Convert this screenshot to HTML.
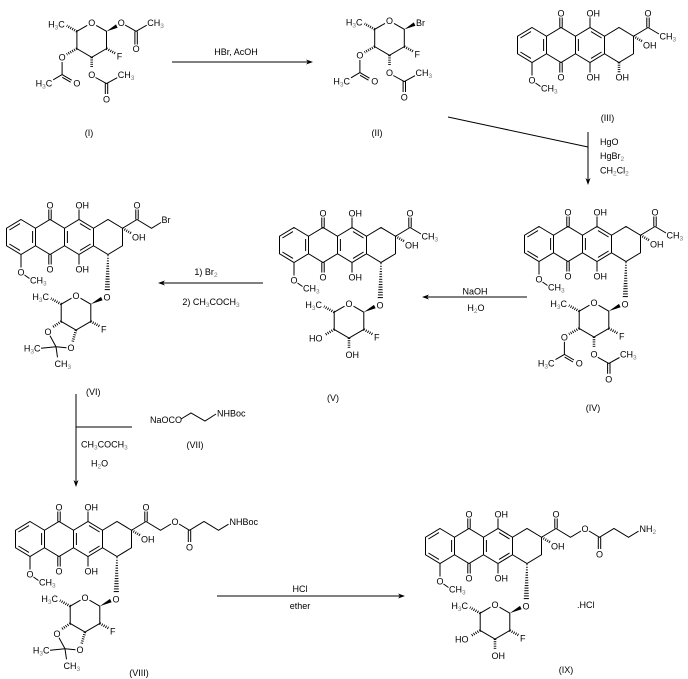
<!DOCTYPE html>
<html><head><meta charset="utf-8">
<style>
html,body{margin:0;padding:0;background:#fff;}
svg{display:block}
text{font-family:"Liberation Sans",Arial,sans-serif;font-size:9px;fill:#000}
.s{font-size:6.5px;fill:#777}
.b{stroke:#000;stroke-width:1;fill:none}
.h{stroke:#000;stroke-width:2.6;stroke-dasharray:0.9 1.3;fill:none}
</style></head><body>
<svg width="688" height="679" viewBox="0 0 688 679" xmlns="http://www.w3.org/2000/svg">
<defs><pattern id="hz" width="10" height="2.6" patternUnits="userSpaceOnUse"><rect width="10" height="1" fill="#000"/></pattern></defs>
<rect width="688" height="679" fill="#fff"/>

<!-- Arrows -->
<path class="b" d="M172,62H310"/><polygon points="313,62 306,59.5 308,62 306,64.5"/>
<text x="236" y="55" text-anchor="middle">HBr, AcOH</text>

<path class="b" d="M448,117L588,147M588,132V182"/><polygon points="588,185 585.5,178 588,180 590.5,178"/>
<text x="600" y="145">HgO</text>
<text x="600" y="159">HgBr<tspan class="s" dy="2">2</tspan></text>
<text x="600" y="173.5">CH<tspan class="s" dy="2">2</tspan><tspan dy="-2">Cl</tspan><tspan class="s" dy="2">2</tspan></text>

<path class="b" d="M527,297H425"/><polygon points="422,297 429,294.5 427,297 429,299.5"/>
<text x="475" y="294.5" text-anchor="middle">NaOH</text>
<text x="476" y="311" text-anchor="middle">H<tspan class="s" dy="2">2</tspan><tspan dy="-2">O</tspan></text>

<path class="b" d="M263,283H161"/><polygon points="158,283 165,280.5 163,283 165,285.5"/>
<text x="206" y="275" text-anchor="middle">1) Br<tspan class="s" dy="2">2</tspan></text>
<text x="211" y="305" text-anchor="middle">2) CH<tspan class="s" dy="2">3</tspan><tspan dy="-2">COCH</tspan><tspan class="s" dy="2">3</tspan></text>

<path class="b" d="M76,394V484M76,427H132"/><polygon points="76,487 73.5,480 76,482 78.5,480"/>
<text x="81" y="447.5">CH<tspan class="s" dy="2">3</tspan><tspan dy="-2">COCH</tspan><tspan class="s" dy="2">3</tspan></text>
<text x="91" y="466.5">H<tspan class="s" dy="2">2</tspan><tspan dy="-2">O</tspan></text>
<text x="150" y="423">NaOCO</text>
<path class="b" d="M181,419L191,413L205,421L216,414"/>
<text x="217" y="416.5">NHBoc</text>
<text x="195" y="448" text-anchor="middle">(VII)</text>

<path class="b" d="M217,596H402"/><polygon points="405,596 398,593.5 400,596 398,598.5"/>
<text x="300" y="592" text-anchor="middle">HCl</text>
<text x="300" y="609" text-anchor="middle">ether</text>

<!-- Labels -->
<text x="89" y="136" text-anchor="middle">(I)</text>
<text x="377" y="136" text-anchor="middle">(II)</text>
<text x="607.5" y="121" text-anchor="middle">(III)</text>
<text x="593" y="411" text-anchor="middle">(IV)</text>
<text x="333" y="401" text-anchor="middle">(V)</text>
<text x="86" y="395">(VI)</text>
<text x="139" y="676" text-anchor="middle">(VIII)</text>
<text x="566" y="673" text-anchor="middle">(IX)</text>
<text x="577" y="608">.HCl</text>

<!-- (I) -->
<g transform="translate(91.7,40)">
<path class="b" d="M-4.5,-14.6L-14.8,-8.65V8.65L0,17.3L14.8,8.65V-8.65L4.5,-14.6"/><text x="0" y="-14" text-anchor="middle">O</text><path class="h" d="M-14.8,-8.65L-25,-14.3M14.8,8.65L24,13.6"/><text x="-27" y="-12.7" text-anchor="end">H<tspan class="s" dy="2">3</tspan><tspan dy="-2">C</tspan></text><text x="25" y="19.5">F</text>
<path class="h" d="M-14.8,8.65L-25,14.3M0,17.3V28"/><text x="-29.6" y="20.6" text-anchor="middle">O</text>
<path class="b" d="M-29.6,22V34.6L-20,40.2M-29.4,37.3L-21,42.2M-29.6,34.6L-38.5,39.8M3.8,37.5L14.8,43.6L25.5,37.7M13.6,43.3V54M16,43.3V54"/>
<text x="-14.8" y="46.6" text-anchor="middle">O</text><text x="-39.5" y="46.6" text-anchor="end">H<tspan class="s" dy="2">3</tspan><tspan dy="-2">C</tspan></text><text x="0" y="37.9" text-anchor="middle">O</text><text x="14.8" y="62.5" text-anchor="middle">O</text><text x="26" y="37.9">CH<tspan class="s" dy="2">3</tspan></text>
<polygon points="14.8,-8.65 25.9,-12.3 24.3,-15.6"/><text x="29.6" y="-14" text-anchor="middle">O</text>
<path class="b" d="M33.4,-15L44.4,-8.65L55,-14.8M43.2,-8.65V4.5M45.6,-8.65V4.5"/>
<text x="44.4" y="12.2" text-anchor="middle">O</text><text x="55.5" y="-14">CH<tspan class="s" dy="2">3</tspan></text>
</g>

<!-- (II) -->
<g transform="translate(389.5,38)">
<path class="b" d="M-4.5,-14.6L-14.8,-8.65V8.65L0,17.3L14.8,8.65V-8.65L4.5,-14.6"/><text x="0" y="-14" text-anchor="middle">O</text><path class="h" d="M-14.8,-8.65L-25,-14.3M14.8,8.65L24,13.6"/><text x="-27" y="-12.7" text-anchor="end">H<tspan class="s" dy="2">3</tspan><tspan dy="-2">C</tspan></text><text x="25" y="19.5">F</text>
<path class="h" d="M-14.8,8.65L-25,14.3M0,17.3V28"/><text x="-29.6" y="20.6" text-anchor="middle">O</text>
<path class="b" d="M-29.6,22V34.6L-20,40.2M-29.4,37.3L-21,42.2M-29.6,34.6L-38.5,39.8M3.8,37.5L14.8,43.6L25.5,37.7M13.6,43.3V54M16,43.3V54"/>
<text x="-14.8" y="46.6" text-anchor="middle">O</text><text x="-39.5" y="46.6" text-anchor="end">H<tspan class="s" dy="2">3</tspan><tspan dy="-2">C</tspan></text><text x="0" y="37.9" text-anchor="middle">O</text><text x="14.8" y="62.5" text-anchor="middle">O</text><text x="26" y="37.9">CH<tspan class="s" dy="2">3</tspan></text>
<polygon points="14.8,-8.65 25.9,-12.3 24.3,-15.6"/><text x="26.5" y="-12">Br</text>
</g>

<!-- (III) -->
<g transform="translate(532,45)">
<path class="b" d="M0,-17.5L14.5,-8.75V8.75L0,17.5L-14.5,8.75V-8.75Z M14.5,-8.75L29,-17.5L43.5,-8.75V8.75L29,17.5L14.5,8.75 M43.5,-8.75L58,-17.5L72.5,-8.75V8.75L58,17.5L43.5,8.75 M72.5,-8.75L87,-17.5L101.5,-8.75V8.75L87,17.5L72.5,8.75 M-11.6,-7L-1,-13.4M11.6,-6V6M-1,13.4L-11.6,7M46.4,-6V6M59,-13.4L69.6,-7M69.6,7L59,13.4 M27.8,-17.5V-27.5M30.2,-17.5V-27.5M27.8,17.5V27.5M30.2,17.5V27.5M58,-17.5V-27.5M58,17.5V27.5M0,17.5V30.5M3.5,38L8.5,41.5 M101.5,-8.75L116,-17.5M114.8,-17.5V-27.5M117.2,-17.5V-27.5"/>
<text x="29" y="-28.7" text-anchor="middle">O</text><text x="54.5" y="-28.7">OH</text><text x="29" y="35.3" text-anchor="middle">O</text><text x="54.5" y="35.3">OH</text><text x="0" y="38.3" text-anchor="middle">O</text><text x="9" y="46.3">CH<tspan class="s" dy="2">3</tspan></text><text x="111" y="3.3">OH</text><text x="116" y="-28.7" text-anchor="middle">O</text><path class="h" d="M101.5,-8.75L110,-3.8"/>
<path class="b" d="M116,-17.5L127,-11"/><text x="127.5" y="-5.5">CH<tspan class="s" dy="2">3</tspan></text>
<path class="h" d="M87,17.5V27.5"/><text x="83.5" y="35.3">OH</text>
</g>

<!-- (IV) -->
<g transform="translate(539,244)">
<path class="b" d="M0,-17.5L14.5,-8.75V8.75L0,17.5L-14.5,8.75V-8.75Z M14.5,-8.75L29,-17.5L43.5,-8.75V8.75L29,17.5L14.5,8.75 M43.5,-8.75L58,-17.5L72.5,-8.75V8.75L58,17.5L43.5,8.75 M72.5,-8.75L87,-17.5L101.5,-8.75V8.75L87,17.5L72.5,8.75 M-11.6,-7L-1,-13.4M11.6,-6V6M-1,13.4L-11.6,7M46.4,-6V6M59,-13.4L69.6,-7M69.6,7L59,13.4 M27.8,-17.5V-27.5M30.2,-17.5V-27.5M27.8,17.5V27.5M30.2,17.5V27.5M58,-17.5V-27.5M58,17.5V27.5M0,17.5V30.5M3.5,38L8.5,41.5 M101.5,-8.75L116,-17.5M114.8,-17.5V-27.5M117.2,-17.5V-27.5"/>
<text x="29" y="-28.7" text-anchor="middle">O</text><text x="54.5" y="-28.7">OH</text><text x="29" y="35.3" text-anchor="middle">O</text><text x="54.5" y="35.3">OH</text><text x="0" y="38.3" text-anchor="middle">O</text><text x="9" y="46.3">CH<tspan class="s" dy="2">3</tspan></text><text x="111" y="3.3">OH</text><text x="116" y="-28.7" text-anchor="middle">O</text><path class="h" d="M101.5,-8.75L110,-3.8"/>
<path class="b" d="M116,-17.5L127,-11"/><text x="127.5" y="-5.5">CH<tspan class="s" dy="2">3</tspan></text>
<polygon points="86.4,17.5 87.6,17.5 89,54.5 83.6,54.5" fill="url(#hz)"/><text x="86" y="63.3" text-anchor="middle">O</text>
</g>
<g transform="translate(594,319.8)">
<path class="b" d="M-4.5,-14.6L-14.8,-8.65V8.65L0,17.3L14.8,8.65V-8.65L4.5,-14.6"/><text x="0" y="-14" text-anchor="middle">O</text><path class="h" d="M-14.8,-8.65L-25,-14.3M14.8,8.65L24,13.6"/><text x="-27" y="-12.7" text-anchor="end">H<tspan class="s" dy="2">3</tspan><tspan dy="-2">C</tspan></text><text x="25" y="19.5">F</text>
<polygon points="14.8,-8.65 26.6,-12.6 25,-15.9"/>
<path class="h" d="M-14.8,8.65L-25,14.3M0,17.3V28"/><text x="-29.6" y="20.6" text-anchor="middle">O</text>
<path class="b" d="M-29.6,22V34.6L-20,40.2M-29.4,37.3L-21,42.2M-29.6,34.6L-38.5,39.8M3.8,37.5L14.8,43.6L25.5,37.7M13.6,43.3V54M16,43.3V54"/>
<text x="-14.8" y="46.6" text-anchor="middle">O</text><text x="-39.5" y="46.6" text-anchor="end">H<tspan class="s" dy="2">3</tspan><tspan dy="-2">C</tspan></text><text x="0" y="37.9" text-anchor="middle">O</text><text x="14.8" y="62.5" text-anchor="middle">O</text><text x="26" y="37.9">CH<tspan class="s" dy="2">3</tspan></text>
</g>

<!-- (V) -->
<g transform="translate(294,245)">
<path class="b" d="M0,-17.5L14.5,-8.75V8.75L0,17.5L-14.5,8.75V-8.75Z M14.5,-8.75L29,-17.5L43.5,-8.75V8.75L29,17.5L14.5,8.75 M43.5,-8.75L58,-17.5L72.5,-8.75V8.75L58,17.5L43.5,8.75 M72.5,-8.75L87,-17.5L101.5,-8.75V8.75L87,17.5L72.5,8.75 M-11.6,-7L-1,-13.4M11.6,-6V6M-1,13.4L-11.6,7M46.4,-6V6M59,-13.4L69.6,-7M69.6,7L59,13.4 M27.8,-17.5V-27.5M30.2,-17.5V-27.5M27.8,17.5V27.5M30.2,17.5V27.5M58,-17.5V-27.5M58,17.5V27.5M0,17.5V30.5M3.5,38L8.5,41.5 M101.5,-8.75L116,-17.5M114.8,-17.5V-27.5M117.2,-17.5V-27.5"/>
<text x="29" y="-28.7" text-anchor="middle">O</text><text x="54.5" y="-28.7">OH</text><text x="29" y="35.3" text-anchor="middle">O</text><text x="54.5" y="35.3">OH</text><text x="0" y="38.3" text-anchor="middle">O</text><text x="9" y="46.3">CH<tspan class="s" dy="2">3</tspan></text><text x="111" y="3.3">OH</text><text x="116" y="-28.7" text-anchor="middle">O</text><path class="h" d="M101.5,-8.75L110,-3.8"/>
<path class="b" d="M116,-17.5L127,-11"/><text x="127.5" y="-5.5">CH<tspan class="s" dy="2">3</tspan></text>
<polygon points="86.4,17.5 87.6,17.5 89,54.5 83.6,54.5" fill="url(#hz)"/><text x="86" y="63.3" text-anchor="middle">O</text>
</g>
<g transform="translate(349,320.8)">
<path class="b" d="M-4.5,-14.6L-14.8,-8.65V8.65L0,17.3L14.8,8.65V-8.65L4.5,-14.6"/><text x="0" y="-14" text-anchor="middle">O</text><path class="h" d="M-14.8,-8.65L-25,-14.3M14.8,8.65L24,13.6"/><text x="-27" y="-12.7" text-anchor="end">H<tspan class="s" dy="2">3</tspan><tspan dy="-2">C</tspan></text><text x="25" y="19.5">F</text>
<polygon points="14.8,-8.65 26.6,-12.6 25,-15.9"/>
<path class="h" d="M-14.8,8.65L-24,14M0,17.3V27.5"/><text x="-26.5" y="20.5" text-anchor="end">HO</text><text x="-3.5" y="37">OH</text>
</g>

<!-- (VI) -->
<g transform="translate(21,237)">
<path class="b" d="M0,-17.5L14.5,-8.75V8.75L0,17.5L-14.5,8.75V-8.75Z M14.5,-8.75L29,-17.5L43.5,-8.75V8.75L29,17.5L14.5,8.75 M43.5,-8.75L58,-17.5L72.5,-8.75V8.75L58,17.5L43.5,8.75 M72.5,-8.75L87,-17.5L101.5,-8.75V8.75L87,17.5L72.5,8.75 M-11.6,-7L-1,-13.4M11.6,-6V6M-1,13.4L-11.6,7M46.4,-6V6M59,-13.4L69.6,-7M69.6,7L59,13.4 M27.8,-17.5V-27.5M30.2,-17.5V-27.5M27.8,17.5V27.5M30.2,17.5V27.5M58,-17.5V-27.5M58,17.5V27.5M0,17.5V30.5M3.5,38L8.5,41.5 M101.5,-8.75L116,-17.5M114.8,-17.5V-27.5M117.2,-17.5V-27.5"/>
<text x="29" y="-28.7" text-anchor="middle">O</text><text x="54.5" y="-28.7">OH</text><text x="29" y="35.3" text-anchor="middle">O</text><text x="54.5" y="35.3">OH</text><text x="0" y="38.3" text-anchor="middle">O</text><text x="9" y="46.3">CH<tspan class="s" dy="2">3</tspan></text><text x="111" y="3.3">OH</text><text x="116" y="-28.7" text-anchor="middle">O</text><path class="h" d="M101.5,-8.75L110,-3.8"/>
<path class="b" d="M116,-17.5L130.5,-8.75L140,-14.5"/><text x="140.5" y="-14">Br</text>
<polygon points="86.4,17.5 87.6,17.5 89,54.5 83.6,54.5" fill="url(#hz)"/><text x="86" y="63.3" text-anchor="middle">O</text>
</g>
<g transform="translate(76,312.8)">
<path class="b" d="M-4.5,-14.6L-14.8,-8.65V8.65L0,17.3L14.8,8.65V-8.65L4.5,-14.6"/><text x="0" y="-14" text-anchor="middle">O</text><path class="h" d="M-14.8,-8.65L-25,-14.3M14.8,8.65L24,13.6"/><text x="-27" y="-12.7" text-anchor="end">H<tspan class="s" dy="2">3</tspan><tspan dy="-2">C</tspan></text><text x="25" y="19.5">F</text>
<polygon points="14.8,-8.65 26.6,-12.6 25,-15.9"/>
<path class="h" d="M-14.8,8.65L-24,14.8M0,17.3L-3.5,29.5"/><text x="-28" y="22.3" text-anchor="middle">O</text><text x="-5" y="38.3" text-anchor="middle">O</text><path class="b" d="M-26,23L-20,34M-9.5,35L-20,34L-35,35.5M-20,34L-18.5,44.5"/><text x="-35.5" y="38.5" text-anchor="end">H<tspan class="s" dy="2">3</tspan><tspan dy="-2">C</tspan></text><text x="-21.5" y="54.3">CH<tspan class="s" dy="2">3</tspan></text>
</g>

<!-- (VIII) -->
<g transform="translate(30,539)">
<path class="b" d="M0,-17.5L14.5,-8.75V8.75L0,17.5L-14.5,8.75V-8.75Z M14.5,-8.75L29,-17.5L43.5,-8.75V8.75L29,17.5L14.5,8.75 M43.5,-8.75L58,-17.5L72.5,-8.75V8.75L58,17.5L43.5,8.75 M72.5,-8.75L87,-17.5L101.5,-8.75V8.75L87,17.5L72.5,8.75 M-11.6,-7L-1,-13.4M11.6,-6V6M-1,13.4L-11.6,7M46.4,-6V6M59,-13.4L69.6,-7M69.6,7L59,13.4 M27.8,-17.5V-27.5M30.2,-17.5V-27.5M27.8,17.5V27.5M30.2,17.5V27.5M58,-17.5V-27.5M58,17.5V27.5M0,17.5V30.5M3.5,38L8.5,41.5 M101.5,-8.75L116,-17.5M114.8,-17.5V-27.5M117.2,-17.5V-27.5"/>
<text x="29" y="-28.7" text-anchor="middle">O</text><text x="54.5" y="-28.7">OH</text><text x="29" y="35.3" text-anchor="middle">O</text><text x="54.5" y="35.3">OH</text><text x="0" y="38.3" text-anchor="middle">O</text><text x="9" y="46.3">CH<tspan class="s" dy="2">3</tspan></text><text x="111" y="3.3">OH</text><text x="116" y="-28.7" text-anchor="middle">O</text><path class="h" d="M101.5,-8.75L110,-3.8"/>
<path class="b" d="M116,-17.5L130.5,-8.75L141,-15M149,-15L159.5,-8.75L174,-17.5L188.5,-8.75L198.5,-14.8M158.3,-8.75V3M160.7,-8.75V3"/><text x="145" y="-14.2" text-anchor="middle">O</text><text x="159.5" y="11.3" text-anchor="middle">O</text><text x="199.5" y="-14.2">NHBoc</text>
<polygon points="86.4,17.5 87.6,17.5 89,54.5 83.6,54.5" fill="url(#hz)"/><text x="86" y="63.3" text-anchor="middle">O</text>
</g>
<g transform="translate(85,614.8)">
<path class="b" d="M-4.5,-14.6L-14.8,-8.65V8.65L0,17.3L14.8,8.65V-8.65L4.5,-14.6"/><text x="0" y="-14" text-anchor="middle">O</text><path class="h" d="M-14.8,-8.65L-25,-14.3M14.8,8.65L24,13.6"/><text x="-27" y="-12.7" text-anchor="end">H<tspan class="s" dy="2">3</tspan><tspan dy="-2">C</tspan></text><text x="25" y="19.5">F</text>
<polygon points="14.8,-8.65 26.6,-12.6 25,-15.9"/>
<path class="h" d="M-14.8,8.65L-24,14.8M0,17.3L-3.5,29.5"/><text x="-28" y="22.3" text-anchor="middle">O</text><text x="-5" y="38.3" text-anchor="middle">O</text><path class="b" d="M-26,23L-20,34M-9.5,35L-20,34L-35,35.5M-20,34L-18.5,44.5"/><text x="-35.5" y="38.5" text-anchor="end">H<tspan class="s" dy="2">3</tspan><tspan dy="-2">C</tspan></text><text x="-21.5" y="54.3">CH<tspan class="s" dy="2">3</tspan></text>
</g>

<!-- (IX) -->
<g transform="translate(440,546)">
<path class="b" d="M0,-17.5L14.5,-8.75V8.75L0,17.5L-14.5,8.75V-8.75Z M14.5,-8.75L29,-17.5L43.5,-8.75V8.75L29,17.5L14.5,8.75 M43.5,-8.75L58,-17.5L72.5,-8.75V8.75L58,17.5L43.5,8.75 M72.5,-8.75L87,-17.5L101.5,-8.75V8.75L87,17.5L72.5,8.75 M-11.6,-7L-1,-13.4M11.6,-6V6M-1,13.4L-11.6,7M46.4,-6V6M59,-13.4L69.6,-7M69.6,7L59,13.4 M27.8,-17.5V-27.5M30.2,-17.5V-27.5M27.8,17.5V27.5M30.2,17.5V27.5M58,-17.5V-27.5M58,17.5V27.5M0,17.5V30.5M3.5,38L8.5,41.5 M101.5,-8.75L116,-17.5M114.8,-17.5V-27.5M117.2,-17.5V-27.5"/>
<text x="29" y="-28.7" text-anchor="middle">O</text><text x="54.5" y="-28.7">OH</text><text x="29" y="35.3" text-anchor="middle">O</text><text x="54.5" y="35.3">OH</text><text x="0" y="38.3" text-anchor="middle">O</text><text x="9" y="46.3">CH<tspan class="s" dy="2">3</tspan></text><text x="111" y="3.3">OH</text><text x="116" y="-28.7" text-anchor="middle">O</text><path class="h" d="M101.5,-8.75L110,-3.8"/>
<path class="b" d="M116,-17.5L130.5,-8.75L141,-15M149,-15L159.5,-8.75L174,-17.5L188.5,-8.75L198.5,-14.8M158.3,-8.75V3M160.7,-8.75V3"/><text x="145" y="-14.2" text-anchor="middle">O</text><text x="159.5" y="11.3" text-anchor="middle">O</text><text x="199.5" y="-14.2">NH<tspan class="s" dy="2">2</tspan></text>
<polygon points="86.4,17.5 87.6,17.5 89,54.5 83.6,54.5" fill="url(#hz)"/><text x="86" y="63.3" text-anchor="middle">O</text>
</g>
<g transform="translate(495,621.8)">
<path class="b" d="M-4.5,-14.6L-14.8,-8.65V8.65L0,17.3L14.8,8.65V-8.65L4.5,-14.6"/><text x="0" y="-14" text-anchor="middle">O</text><path class="h" d="M-14.8,-8.65L-25,-14.3M14.8,8.65L24,13.6"/><text x="-27" y="-12.7" text-anchor="end">H<tspan class="s" dy="2">3</tspan><tspan dy="-2">C</tspan></text><text x="25" y="19.5">F</text>
<polygon points="14.8,-8.65 26.6,-12.6 25,-15.9"/>
<path class="h" d="M-14.8,8.65L-24,14M0,17.3V27.5"/><text x="-26.5" y="20.5" text-anchor="end">HO</text><text x="-3.5" y="37">OH</text>
</g>

</svg>
</body></html>
